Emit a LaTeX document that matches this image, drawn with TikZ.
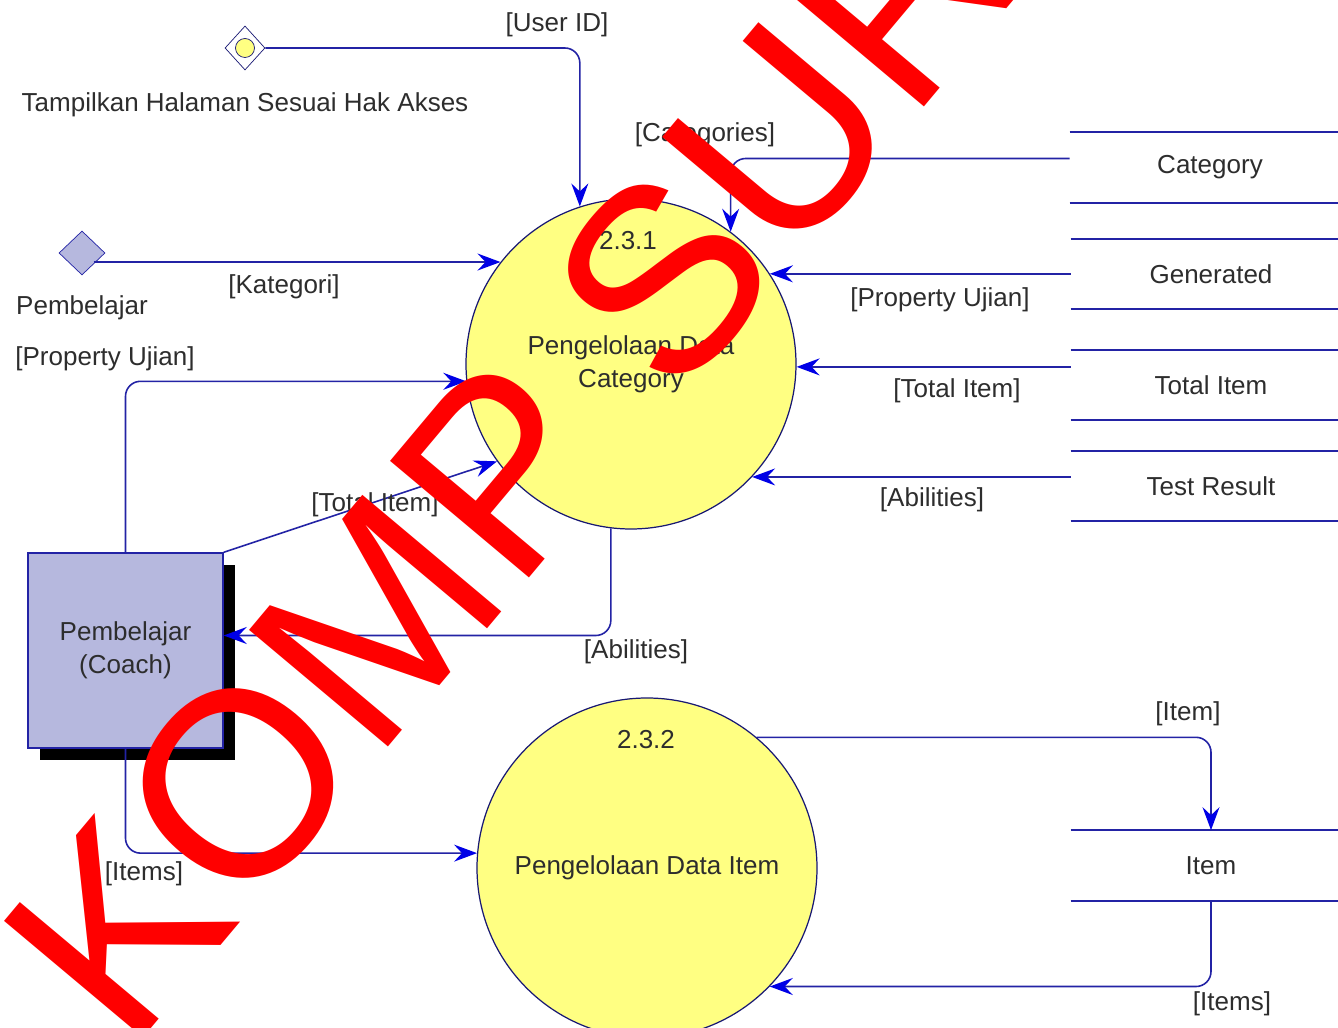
\documentclass[tikz,border=0pt]{standalone}
\usepackage{fontspec}
\setmainfont{Liberation Sans}
\usetikzlibrary{shapes.geometric,arrows.meta,positioning,shadows}

\definecolor{flowline}{RGB}{35,35,165}
\definecolor{tipblue}{RGB}{0,0,230}
\definecolor{procfill}{RGB}{255,255,130}
\definecolor{entfill}{RGB}{182,184,222}
\definecolor{txtgray}{RGB}{45,45,45}
\definecolor{wmred}{RGB}{255,0,0}

\tikzset{
  lbl/.style={text=txtgray, font=\fontsize{14.8}{18.6}\selectfont, inner sep=0pt},
  flow/.style={draw=flowline, line width=0.9pt, rounded corners=3mm,
    -{Stealth[length=4.6mm,width=3.4mm,inset=1.6mm,color=tipblue]}},
  process/.style={lbl, circle, draw=flowline!70!black, line width=0.7pt, fill=procfill, align=center},
  datastore/.style={lbl, minimum width=56mm, minimum height=14mm},
  storeline/.style={draw=flowline, line width=1pt},
  entity/.style={lbl, rectangle, draw=flowline, line width=0.8pt, fill=entfill, minimum width=39mm, minimum height=39mm,
    align=center, drop shadow={shadow xshift=2.4mm, shadow yshift=-2.4mm, fill=black, opacity=1}},
  watermark/.style={text=wmred, font=\fontsize{150}{152}\selectfont, inner sep=0pt}
}

\begin{document}
\begin{tikzpicture}[x=0.2mm, y=-0.2mm]
    \useasboundingbox[fill=white] (0,0) rectangle (1338,1028);

    % sources
    \node[diamond, draw=flowline!70!black, fill=white, minimum width=8mm, minimum height=8.8mm, inner sep=0pt] (tampil) at (245,48) {};
    \node[circle, draw=flowline!70!black, fill=procfill, minimum size=3.8mm, inner sep=0pt] (tampilc) at (tampil) {};
    \node[lbl] (tampiltxt) at (245,105) {Tampilkan Halaman Sesuai Hak Akses};

    \node[diamond, draw=flowline, fill=entfill, minimum width=9.2mm, minimum height=8.8mm, inner sep=0pt] (pemb) at (82,253) {};
    \node[lbl] (pembtxt) at (82,308) {Pembelajar};

    % processes
    \node[process, minimum size=66mm] (p231) at (631,364) {Pengelolaan Data\\Category};
    \node[lbl] (p231num) at (628,241) {2.3.1};

    \node[process, minimum size=68mm] (p232) at (647,868) {Pengelolaan Data Item};
    \node[lbl] (p232num) at (646,740) {2.3.2};

    % external entity
    \node[entity] (coach) at (125.5,650.5) {Pembelajar\\(Coach)};

    % data stores
    \node[datastore] (cat) at (1210,167.5) {Category};
    \node[datastore] (gen) at (1211,274) {Generated};
    \node[datastore] (tot) at (1211,385) {Total Item};
    \node[datastore] (res) at (1211,486) {Test Result};
    \node[datastore] (itm) at (1211,865.5) {Item};
    \foreach \s in {cat,gen,tot,res,itm}
        \draw[storeline] (\s.north west) -- (\s.north east) (\s.south west) -- (\s.south east);

    % flows
    \draw[flow] (tampil.east) -| (p231.108);
    \draw[flow] (pemb.south east |- p231.142) -- (p231.142);
    \draw[flow] ([yshift=1.8mm]cat.west) -| (p231.53);
    \draw[flow] (gen.west |- p231.33) -- (p231.33);
    \draw[flow] (tot.west |- p231.359) -- (p231.359);
    \draw[flow] (res.west |- p231.317) -- (p231.317);
    \draw[flow] (coach.north) |- (p231.186);
    \draw[flow] (coach.north east) -- (p231.216);
    \draw[flow] (p231.263) |- ([yshift=3mm]coach.east);
    \draw[flow] (coach.south) |- (p232.175);
    \draw[flow] (p232.50) -| (itm.north);
    \draw[flow] (itm.south) |- (p232.316);

    % flow labels
    \node[lbl] (luser) at (557,25) {[User ID]};
    \node[lbl] (lkat) at (284,287) {[Kategori]};
    \node[lbl] (lcats) at (705,135) {[Categories]};
    \node[lbl] (lpropr) at (940,300) {[Property Ujian]};
    \node[lbl] (ltotr) at (957,391) {[Total Item]};
    \node[lbl] (labir) at (932,500) {[Abilities]};
    \node[lbl] (lpropl) at (105,359) {[Property Ujian]};
    \node[lbl] (ltotl) at (375,505) {[Total Item]};
    \node[lbl] (labib) at (636,652) {[Abilities]};
    \node[lbl] (litemsl) at (144,874) {[Items]};
    \node[lbl] (litem) at (1188,714) {[Item]};
    \node[lbl] (litemsr) at (1232,1004) {[Items]};

    % watermark
    \node[watermark, rotate=50] (wm) at (512,458) {KOMP SUR};
\end{tikzpicture}
\end{document}
